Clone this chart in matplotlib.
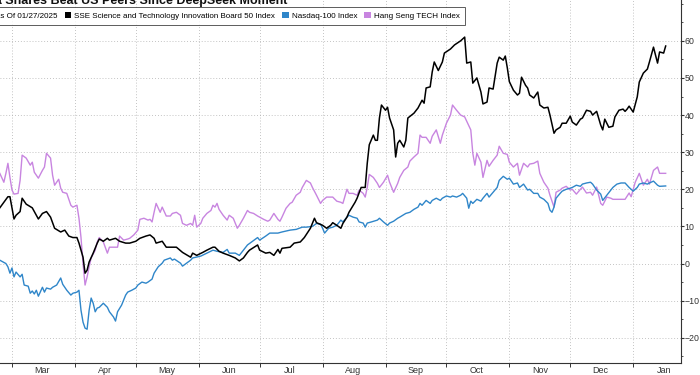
import numpy as np
import matplotlib
matplotlib.use("Agg")
import matplotlib.pyplot as plt
import matplotlib.dates as mdates
from matplotlib.patches import Patch
from matplotlib.ticker import MultipleLocator, NullFormatter

# ---------------- data (days since 2025-03-01, % change since 01/27/2025) ----------------
start_date = "2025-03-01"

star_days = [-6, -2, -1, 1, 2, 4, 5, 7, 10, 13, 15, 17, 19, 21, 24, 26, 28, 30, 32, 33, 35, 36, 37, 38,
             40, 42, 43, 45, 47, 48, 51, 53, 56, 58, 61, 63, 66, 68, 70, 71, 74, 76, 79, 81, 84, 88, 89,
             91, 94, 96, 99, 100, 102, 104, 107, 110, 112, 114, 116, 117, 121, 122, 125, 127, 129, 131,
             132, 133, 137, 139, 142, 144, 147, 149, 150, 153, 155, 157, 158, 160, 162, 163, 165, 166,
             169, 170, 172, 174, 175, 176, 178, 179, 180, 181, 182, 184, 185, 186, 188, 189, 190, 191,
             193, 194, 195, 198, 200, 202, 203, 204, 206, 207, 208, 210, 212, 213, 216, 218, 221, 223,
             224, 226, 227, 229, 231, 232, 234, 235, 237, 239, 240, 242, 243, 244, 245, 247, 249, 250,
             251, 253, 254, 255, 257, 259, 260, 262, 264, 265, 267, 268, 270, 271, 273, 275, 276, 278,
             280, 281, 283, 285, 286, 288, 290, 291, 292, 294, 296, 297, 299, 301, 302, 303, 304, 306,
             308, 309, 311, 313, 314, 316, 318, 319, 321, 322]
star_vals = [15, 18, 18, 12, 13, 14, 17.6, 16, 15, 12, 13.5, 14, 12.5, 9.5, 8.5, 9, 7.4, 7, 7, 5.5, 1.7,
             -2.6, -1.8, 0.4, 2.8, 5.5, 6.6, 6, 6.8, 6.3, 6.8, 6, 5.5, 5.5, 6, 6.8, 7.4, 7.7, 6.8, 5.5,
             6, 4.4, 4.4, 4.4, 3, 1.7, 2.8, 2.2, 3, 3.6, 4.4, 4.4, 3.3, 2.8, 2.2, 1.5, 0.7, 1.5, 3, 3.6,
             5, 3.6, 2.8, 3, 2.2, 3.8, 2.8, 4.1, 4.4, 5.5, 5.8, 7, 9.5, 12.2, 11, 10.3, 9.5, 10.3, 11,
             10.3, 9.5, 10.8, 12.5, 13.8, 16.5, 17.6, 20.5, 20.5, 27, 32, 34.6, 33.2, 33.2, 39.2, 42.7,
             41.3, 42.1, 39.2, 36, 28.7, 32.4, 33.2, 31.4, 33.2, 39.2, 40.5, 41.9, 44, 43.2, 47.3, 47.6,
             51.6, 54.3, 52, 54.3, 56.7, 57.8, 58.9, 60, 61, 54, 54.3, 48.6, 50, 46.2, 43, 43.5, 47.3,
             47, 54, 55.6, 54.8, 55.9, 52.7, 49, 46.7, 45.4, 45.9, 50.2, 48, 47.3, 45.4, 44.6, 46.2,
             42.7, 41.9, 42.1, 40, 35.1, 36, 36.7, 37.8, 37.8, 39.7, 38.1, 37.3, 38.9, 39.2, 41.3, 41,
             40, 41, 37.3, 36, 38.9, 36.7, 37, 39.5, 41.3, 41.6, 41, 41.6, 42.4, 40.8, 44.9, 48.9, 51.3,
             52.4, 54.3, 58.3, 54, 57, 56.7, 58.6]

ndx_days = [-6, -3, -2, -1, 0, 1, 2, 4, 5, 6, 8, 9, 10, 11, 12, 13, 15, 16, 17, 19, 20, 22, 24, 25, 27,
            29, 30, 32, 33, 34, 35, 36, 37, 38, 39, 40, 41, 42, 43, 45, 47, 48, 50, 51, 52, 54, 56, 57,
            59, 61, 62, 64, 66, 67, 69, 70, 72, 74, 75, 78, 79, 80, 83, 84, 86, 88, 89, 93, 96, 99, 101,
            104, 106, 107, 110, 112, 114, 116, 118, 121, 122, 125, 127, 131, 133, 137, 140, 143, 145,
            148, 150, 152, 153, 154, 156, 158, 160, 162, 163, 165, 166, 168, 170, 171, 173, 174, 175,
            177, 180, 181, 183, 185, 186, 188, 190, 191, 194, 196, 198, 200, 201, 202, 204, 206, 207,
            209, 211, 212, 214, 216, 217, 219, 221, 222, 224, 225, 226, 227, 229, 231, 232, 234, 235,
            237, 239, 240, 242, 244, 245, 247, 249, 250, 252, 254, 255, 257, 259, 260, 262, 264, 265,
            266, 267, 268, 270, 271, 273, 275, 276, 278, 280, 281, 283, 285, 286, 288, 290, 291, 293,
            295, 296, 298, 300, 302, 304, 306, 308, 309, 311, 313, 314, 316, 318, 319, 322]
ndx_vals = [0.9, 0, -0.9, -2.6, -1.2, -3.6, -2.3, -3.6, -2.9, -5.8, -6.1, -8, -7.4, -8.2, -7.2, -8.8,
            -6.4, -7.7, -6.6, -6.9, -6.4, -5.8, -3.9, -5.6, -7.2, -8.5, -8, -7.7, -7.2, -12.6, -15.8,
            -17.4, -17.7, -12.6, -9.3, -10.7, -13, -12, -11.8, -10.7, -11.8, -13, -14.4, -15.5, -13,
            -11.2, -8.5, -7.7, -7.2, -6.6, -5.8, -5, -5.3, -5, -4.2, -2.6, -0.9, 0.1, 0.9, 1.5, 0.9, 1.2,
            0.1, -0.7, 0.1, 0.9, 1.5, 2, 2.8, 3.6, 3.3, 3, 3.8, 2.8, 2.8, 2.2, 3.6, 5, 5.8, 7, 6.3, 7.4,
            8.2, 8.2, 8.5, 9, 9.2, 9.8, 9.8, 10, 10.8, 10.6, 9.5, 8.2, 9.5, 9.8, 10.3, 11.7, 11.2, 12.5,
            13, 12.5, 12.2, 11.2, 10.9, 9.8, 10.9, 11.2, 11.7, 12.2, 11.2, 10.3, 10.9, 11.4, 12.2,
            12.5, 13.5, 13.8, 14.6, 15.2, 16.2, 15.7, 17, 16.2, 17, 17.6, 17, 17.6, 18.2, 17.9, 18.2,
            17.9, 18.4, 18.9, 17.6, 14.9, 16.8, 16.2, 17.3, 16.8, 17.6, 18.9, 17.9, 19.2, 20.5, 22.4,
            23.5, 22.7, 23, 21.4, 21.7, 20.5, 21.4, 19.8, 20, 18.9, 18.9, 17.9, 17.3, 16.2, 14.4, 13.8,
            15.2, 17.6, 18.9, 19.5, 20, 20.3, 20.5, 21.1, 20.8, 21.4, 21.7, 21.9, 21.4, 19.8, 18.7, 17,
            18.4, 19.8, 20.5, 21.4, 21.7, 21.7, 20.5, 19.5, 20.5, 21.4, 21.7, 21.4, 21.7, 22.2, 21.1,
            20.8, 20.9]

hst_days = [-6, -4, -3, -2, -1, 0, 1, 3, 4, 5, 7, 9, 10, 11, 13, 15, 16, 17, 19, 20, 21, 23, 24, 25, 27,
            29, 30, 32, 33, 34, 35, 36, 37, 38, 39, 41, 42, 43, 45, 47, 48, 50, 52, 53, 55, 57, 58, 60,
            62, 63, 65, 67, 68, 69, 70, 71, 73, 74, 76, 78, 79, 81, 83, 84, 86, 88, 89, 90, 91, 93, 94,
            96, 98, 99, 100, 101, 102, 104, 106, 107, 109, 111, 112, 114, 116, 117, 119, 121, 122, 124,
            126, 127, 129, 131, 132, 133, 135, 137, 138, 140, 142, 143, 145, 147, 148, 150, 152, 153,
            155, 157, 158, 160, 162, 163, 165, 166, 168, 170, 171, 173, 174, 175, 176, 178, 180, 181,
            183, 185, 186, 188, 190, 191, 193, 195, 196, 198, 200, 201, 202, 204, 206, 207, 209, 211,
            212, 214, 216, 217, 219, 221, 223, 226, 227, 228, 229, 231, 232, 234, 235, 237, 239, 240,
            242, 244, 245, 247, 249, 250, 252, 254, 255, 257, 259, 260, 262, 264, 265, 267, 268, 270,
            271, 273, 275, 276, 278, 280, 281, 283, 285, 286, 288, 290, 291, 293, 295, 296, 298, 300,
            302, 304, 305, 307, 309, 311, 313, 314, 316, 318, 319, 322]
hst_vals = [24.3, 21.9, 24.3, 27, 23.2, 19.8, 18.7, 18.9, 22.4, 29.2, 28.4, 26.5, 27.3, 24.6, 23, 25.1,
            26, 29.7, 28.4, 23.8, 21.1, 22.7, 20.3, 19.2, 18.9, 15.7, 15.2, 15.7, 12.2, 7, 0, -5.8,
            -3.6, -0.9, 1.5, 3.6, 5.8, 7, 5.8, 2.8, 4.4, 4.4, 4.4, 7.4, 6.3, 6.6, 6.8, 7.7, 9, 11.9,
            12.2, 11.7, 11.9, 11.2, 13.8, 16.2, 13.8, 15.2, 12.8, 12.8, 13.5, 13.8, 13, 10.8, 10.3,
            10.8, 10.3, 13, 9.8, 10.8, 12.2, 13.5, 14.3, 15.7, 15.2, 16.2, 14.6, 13, 11.7, 13, 12.2,
            9.5, 10.3, 12.2, 14.3, 13.8, 13.5, 12.8, 12.5, 11.9, 11.4, 11.7, 13.5, 11.9, 11.4, 12.5,
            14.9, 16.2, 16.5, 18.4, 19.2, 20.5, 22.4, 21.7, 20.5, 18.4, 16.2, 17, 17.9, 17.9, 17.9,
            16.8, 16.5, 16.2, 20, 18.9, 18.9, 18.4, 19.8, 18.9, 17.9, 20.5, 24, 23.2, 21.6, 20.5, 21.9,
            23.8, 21.9, 19.2, 21.6, 23.2, 25.1, 26, 27.6, 28.7, 29.7, 34.6, 34, 34, 32.4, 34.3, 36,
            32.4, 34.6, 37.8, 40, 42.7, 41.3, 40, 39.5, 36, 29.7, 26.5, 29.7, 27.3, 23.2, 27.8, 26.2,
            27.8, 29.2, 31.6, 29.7, 29.4, 27.3, 26, 27, 23.8, 27, 26, 26.8, 27, 27.6, 24.3, 21.9, 20.3,
            18.4, 15.2, 19.2, 19.8, 20.3, 20.8, 19.8, 20, 18.7, 20, 20.6, 19, 19.2, 18.4, 20.6, 16.2,
            15.7, 17.9, 17.6, 17.3, 17.3, 17.3, 17.3, 19, 18, 21.9, 24.3, 21.1, 22.7, 21.4, 25.1, 26,
            24.3, 24.3]

series_names = ["SSE Science and Technology Innovation Board 50 Index",
                "Nasdaq-100 Index",
                "Hang Seng TECH Index"]
series_colors = ["#000000", "#2f86c9", "#c885e0"]
month_labels = ["Mar", "Apr", "May", "Jun", "Jul", "Aug", "Sep", "Oct", "Nov", "Dec", "Jan"]
y_ticks = [-20, -10, 0, 10, 20, 30, 40, 50, 60]
as_of_text = "As Of 01/27/2025"
title_text = "China Shares Beat US Peers Since DeepSeek Moment"

# ---------------- plotting ----------------
plt.rcParams['font.family'] = ['Liberation Sans', 'DejaVu Sans']

base = np.datetime64(start_date)
def to_dates(days):
    return base + np.array(days).astype('timedelta64[D]')

fig = plt.figure(figsize=(7.0, 3.75), dpi=100)
ax = fig.add_axes([0.0, 0.032, 0.973, 0.968])

ax.plot(to_dates(hst_days), hst_vals, color=series_colors[2], lw=1.0, zorder=3)
ax.plot(to_dates(ndx_days), ndx_vals, color=series_colors[1], lw=1.0, zorder=4)
ax.plot(to_dates(star_days), star_vals, color=series_colors[0], lw=1.1, zorder=5)

b = mdates.date2num(base)
ax.set_xlim(b - 5.9, b + 329.6)
ax.set_ylim(-26.8, 71)

# x axis: ticks at month starts, labels mid-month
ax.xaxis.set_major_locator(mdates.MonthLocator())
ax.xaxis.set_major_formatter(NullFormatter())
ax.xaxis.set_minor_locator(mdates.MonthLocator(bymonthday=16))
ax.xaxis.set_minor_formatter(mdates.DateFormatter('%b'))
ax.tick_params(axis='x', which='major', length=3, width=0.7, color='#333333', direction='out')
ax.tick_params(axis='x', which='minor', length=0, labelsize=6.5, labelcolor='#333333', pad=2)

# y axis on right
ax.yaxis.tick_right()
ax.set_yticks(y_ticks)
ax.yaxis.set_minor_locator(MultipleLocator(5))
ax.tick_params(axis='y', which='major', length=2, width=0.8, color='#333333',
               labelsize=6.3, labelcolor='#333333', pad=0.6)
ax.tick_params(axis='y', which='minor', length=1.5, width=0.6, color='#333333')

for s in ['left', 'top']:
    ax.spines[s].set_visible(False)
for s in ['right', 'bottom']:
    ax.spines[s].set_color('#333333')
    ax.spines[s].set_linewidth(0.8)

ax.grid(True, which='major', axis='both', color='#b0b0b0', linestyle=(0, (1, 2.5)), linewidth=0.6)
ax.set_axisbelow(True)

# legend
handles = [Patch(facecolor='none', edgecolor='none')] + \
          [Patch(facecolor=c, edgecolor='none') for c in series_colors]
labels = [as_of_text] + series_names
leg = fig.legend(handles, labels, loc='upper left', bbox_to_anchor=(-0.033, 0.992),
                 ncol=4, fontsize=5.8, frameon=True, fancybox=False,
                 handlelength=0.8, handleheight=0.8, handletextpad=0.4,
                 columnspacing=0.85, borderpad=0.6)
leg.get_frame().set_edgecolor('#333333')
leg.get_frame().set_linewidth(0.7)

# cropped title
fig.text(0.41, 0.990, title_text, ha='right', va='baseline',
         fontsize=9.0, fontweight='bold', color='#111111')

fig.savefig('out.png', dpi=100)
